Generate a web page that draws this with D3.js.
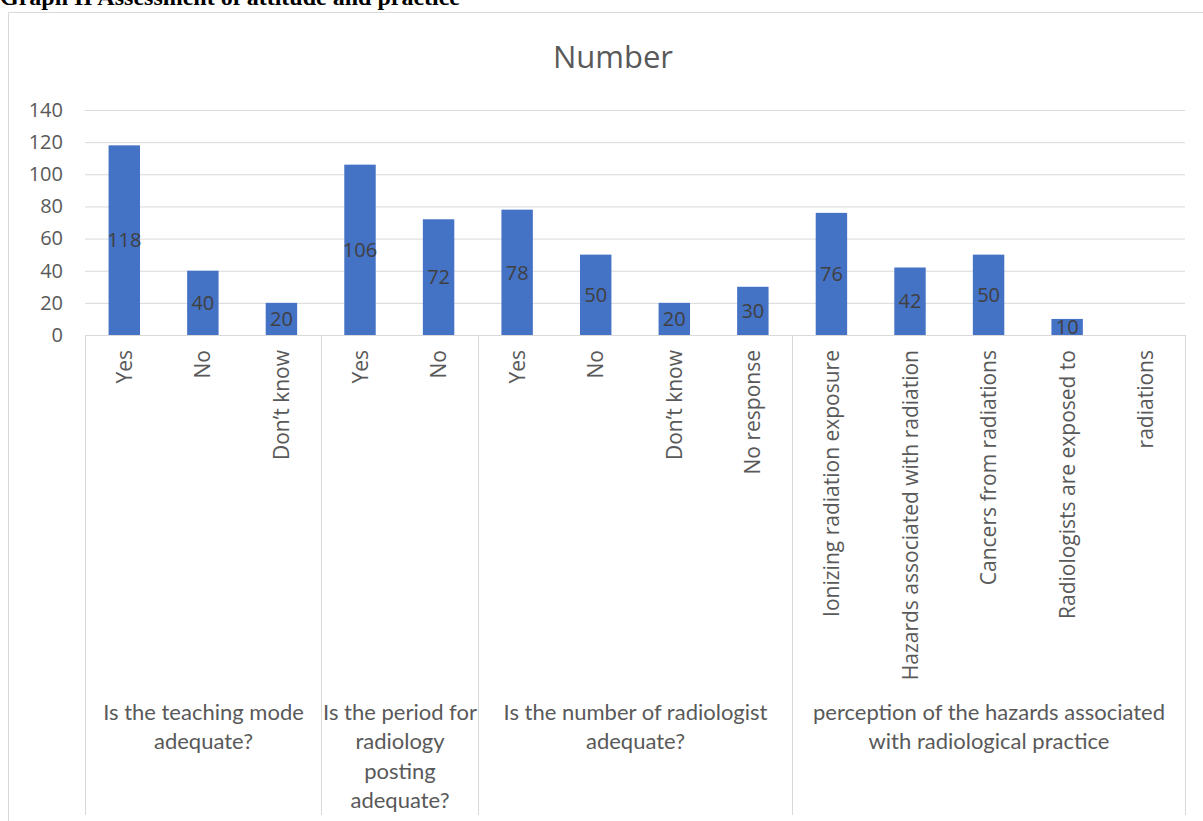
<!DOCTYPE html>
<html>
<head>
<meta charset="utf-8">
<script src="https://cdn.jsdelivr.net/npm/d3@7"></script>
<style>
  body { margin: 0; background: #fff; overflow: hidden; }
  svg { display: block; }
</style>
</head>
<body>
<svg id="chart" width="1203" height="821"></svg>
<script>
// categories along the x axis, in order
var categories = ["Yes", "No", "Don\u2019t know",
                  "Yes", "No",
                  "Yes", "No", "Don\u2019t know", "No response",
                  "Ionizing radiation exposure", "Hazards associated with radiation",
                  "Cancers from radiations", "Radiologists are exposed to", "radiations"];
// number of respondents (null = no bar)
var values = [118, 40, 20, 106, 72, 78, 50, 20, 30, 76, 42, 50, 10, null];
// group labels (wrapped lines) and how many categories each group spans
var groupLabels = [["Is the teaching mode", "adequate?"],
                   ["Is the period for", "radiology", "posting", "adequate?"],
                   ["Is the number of radiologist", "adequate?"],
                   ["perception of the hazards associated", "with radiological practice"]];
var groupSizes = [3, 2, 4, 5];
var yTicks = [0, 20, 40, 60, 80, 100, 120, 140];

var svg = d3.select("#chart");
var plotLeft = 85, plotRight = 1185, plotTop = 110, plotBottom = 335;
var gridCol = "#d9d9d9", textCol = "#595959";

// header of the page above the chart, cut off at the top
svg.append("text")
	.attr("x", 0).attr("y", 5)
	.style("font-family", "'Liberation Serif', 'Times New Roman', serif")
	.style("font-weight", "bold")
	.style("font-size", "24px")
	.text("Graph II Assessment of attitude and practice");

// chart frame
svg.append("path")
	.attr("d", "M8.5,825 V12.5 H1210")
	.attr("fill", "none")
	.attr("stroke", gridCol);

var x = d3.scaleBand()
		  .domain(d3.range(categories.length))
		  .range([plotLeft, plotRight])
		  .paddingInner(0).paddingOuter(0);

var y = d3.scaleLinear()
		  .domain([0, 140])
		  .range([plotBottom, plotTop]);

// gridlines + y labels
var yAxis = svg.append("g")
	.attr("transform", "translate(" + plotLeft + ",0)")
	.call(d3.axisLeft(y).tickValues(yTicks).tickSize(-(plotRight - plotLeft)).tickPadding(22));
yAxis.select(".domain").remove();
yAxis.selectAll("line").attr("stroke", gridCol);
yAxis.selectAll("text")
	.attr("fill", textCol)
	.style("font-family", "'Open Sans', sans-serif")
	.style("font-size", "20px");

// title
svg.append("text")
	.attr("x", 613).attr("y", 68)
	.attr("text-anchor", "middle")
	.attr("fill", textCol)
	.style("font-family", "'Open Sans', sans-serif")
	.style("font-size", "31px")
	.text("Number");

// bars
var bars = values.map(function (v, i) { return {v: v, i: i}; })
				 .filter(function (d) { return d.v != null; });
var barW = x.bandwidth() / 2.5;
svg.selectAll("rect.bar")
	.data(bars)
	.enter()
	.append("rect")
	.attr("class", "bar")
	.attr("x", function (d) { return x(d.i) + (x.bandwidth() - barW) / 2; })
	.attr("y", function (d) { return y(d.v); })
	.attr("width", barW)
	.attr("height", function (d) { return y(0) - y(d.v); })
	.attr("fill", "#4472c4");

// data labels, centred in the bars
svg.selectAll("text.lbl")
	.data(bars)
	.enter()
	.append("text")
	.attr("class", "lbl")
	.attr("x", function (d) { return x(d.i) + x.bandwidth() / 2; })
	.attr("y", function (d) { return y(d.v / 2); })
	.attr("dy", "0.36em")
	.attr("text-anchor", "middle")
	.attr("fill", "#404040")
	.style("font-family", "'Open Sans', sans-serif")
	.style("font-size", "20px")
	.text(function (d) { return d.v; });

// category labels, rotated
svg.selectAll("text.cat")
	.data(categories)
	.enter()
	.append("text")
	.attr("class", "cat")
	.attr("transform", function (d, i) {
		return "translate(" + (x(i) + x.bandwidth() / 2) + ",350) rotate(-90)";
	})
	.attr("dy", "0.36em")
	.attr("text-anchor", "end")
	.attr("fill", textCol)
	.style("font-family", "'Open Sans', sans-serif")
	.style("font-size", "21px")
	.text(function (d) { return d; });

// axis line and group separators
svg.append("line")
	.attr("x1", plotLeft).attr("x2", plotRight)
	.attr("y1", plotBottom + 0.5).attr("y2", plotBottom + 0.5)
	.attr("stroke", gridCol);

var starts = [0];
groupSizes.forEach(function (n, k) { starts.push(starts[k] + n); });
var sepX = function (s) { return Math.round(s < categories.length ? x(s) : plotRight) + 0.5; };
svg.selectAll("line.sep")
	.data(starts)
	.enter()
	.append("line")
	.attr("class", "sep")
	.attr("x1", sepX)
	.attr("x2", sepX)
	.attr("y1", plotBottom).attr("y2", 815)
	.attr("stroke", gridCol);

// group labels
var groups = svg.selectAll("text.grp")
	.data(groupLabels)
	.enter()
	.append("text")
	.attr("class", "grp")
	.attr("text-anchor", "middle")
	.attr("fill", textCol)
	.style("font-family", "Lato, sans-serif")
	.style("font-size", "22px");
groups.each(function (lines, k) {
	var cx = (sepX(starts[k]) + sepX(starts[k + 1])) / 2;
	d3.select(this).selectAll("tspan")
		.data(lines)
		.enter()
		.append("tspan")
		.attr("x", cx)
		.attr("y", function (l, j) { return 720 + j * 29.3; })
		.text(function (l) { return l; });
});
</script>
</body>
</html>
